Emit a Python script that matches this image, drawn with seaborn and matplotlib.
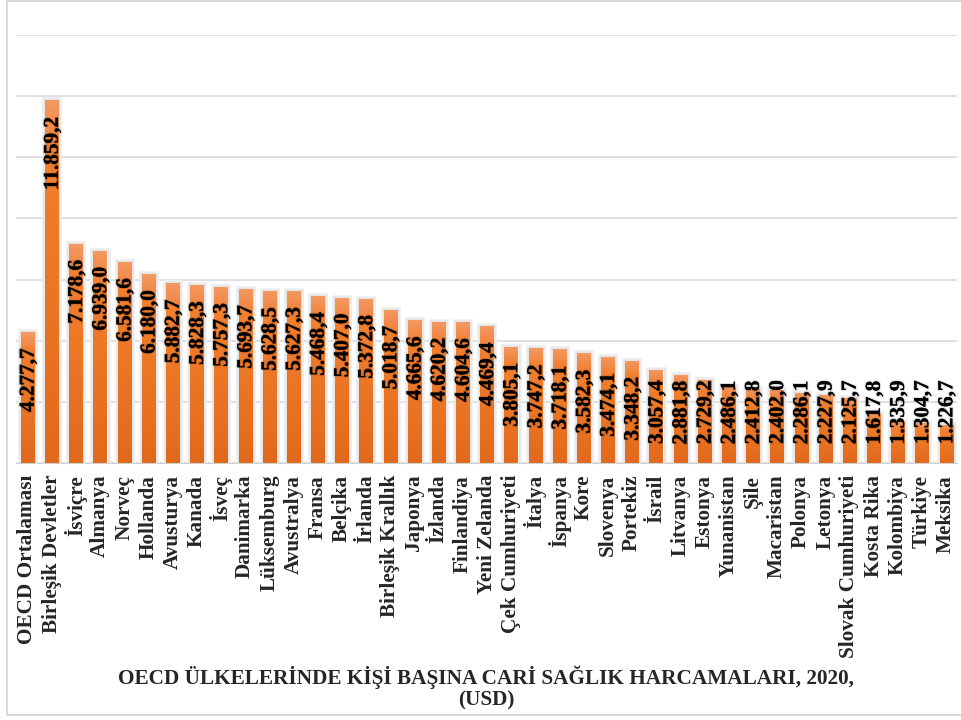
import numpy as np
import seaborn as sns
import matplotlib.pyplot as plt
import matplotlib.patheffects as pe
from matplotlib.colors import LinearSegmentedColormap
from matplotlib.patches import Rectangle

countries = ['OECD Ortalaması', 'Birleşik Devletler', 'İsviçre', 'Almanya', 'Norveç',
             'Hollanda', 'Avusturya', 'Kanada', 'İsveç', 'Danimarka', 'Lüksemburg',
             'Avustralya', 'Fransa', 'Belçika', 'İrlanda', 'Birleşik Krallık', 'Japonya',
             'İzlanda', 'Finlandiya', 'Yeni Zelanda', 'Çek Cumhuriyeti', 'İtalya',
             'İspanya', 'Kore', 'Slovenya', 'Portekiz', 'İsrail', 'Litvanya', 'Estonya',
             'Yunanistan', 'Şile', 'Macaristan', 'Polonya', 'Letonya',
             'Slovak Cumhuriyeti', 'Kosta Rika', 'Kolombiya', 'Türkiye', 'Meksika']
spending = [4277.7, 11859.2, 7178.6, 6939.0, 6581.6, 6180.0, 5882.7, 5828.3, 5757.3,
            5693.7, 5628.5, 5627.3, 5468.4, 5407.0, 5372.8, 5018.7, 4665.6, 4620.2,
            4604.6, 4469.4, 3805.1, 3747.2, 3718.1, 3582.3, 3474.1, 3348.2, 3057.4,
            2881.8, 2729.2, 2486.1, 2412.8, 2402.0, 2286.1, 2227.9, 2125.7, 1617.8,
            1335.9, 1304.7, 1226.7]
title = 'OECD ÜLKELERİNDE KİŞİ BAŞINA CARİ SAĞLIK HARCAMALARI, 2020,\n(USD)'

sns.set_style('white')
plt.rcParams['font.family'] = ['Liberation Serif', 'DejaVu Serif']
plt.rcParams['font.weight'] = 'bold'

fig = plt.figure(figsize=(9.61, 7.2), dpi=100)
ax = fig.add_axes([16 / 961, 1 - 463 / 720, (957 - 16) / 961, (463 - 35) / 720])

sns.barplot(x=countries, y=spending, color='#EE7D31', saturation=1, width=0.54, ax=ax)

# orange gradient + soft grey halo like the excel look
cmap = LinearSegmentedColormap.from_list(
    'org', [(0, '#E2691C'), (0.85, '#F2802E'), (0.93, '#F28D50'), (1, '#F39A62')])
grad = np.linspace(0, 1, 256).reshape(-1, 1)
for p in ax.patches:
    p.set_path_effects([pe.Stroke(linewidth=5, foreground='#f0f0f0'),
                        pe.Stroke(linewidth=2.5, foreground='#dedede'),
                        pe.Normal()])
    x0, w, h = p.get_x(), p.get_width(), p.get_height()
    im = ax.imshow(grad, extent=[x0, x0 + w, 0, h], cmap=cmap, aspect='auto',
                   origin='lower', zorder=p.get_zorder() + 0.1)
    im.set_clip_path(p)

ax.set_xlim(-0.475, 38.45)
ax.set_ylim(0, 14000)
ax.set_yticks(np.arange(0, 14001, 2000))
ax.set_yticklabels([])
ax.grid(axis='y', color='#d9d9d9', lw=1.2)
ax.set_axisbelow(True)
for s in ['left', 'right', 'top']:
    ax.spines[s].set_visible(False)
ax.spines['bottom'].set_color('#d0d0d0')
ax.tick_params(axis='both', length=0)
ax.tick_params(axis='x', pad=8.5)
ax.set_xticks(range(len(countries)))
ax.set_xticklabels(countries, rotation=90, fontsize=15.3, fontweight='bold')
ax.set_xlabel('')

# value labels (turkish number format), inside end unless bar too short
for i, v in enumerate(spending):
    lab = f'{v:,.1f}'.replace(',', 'X').replace('.', ',').replace('X', '.')
    ytop = max(v - 530, 2700)
    ax.text(i + 0.05, ytop, lab, rotation=90, ha='center', va='top', fontsize=15.3,
            fontweight='bold', color='black', zorder=5,
            path_effects=[pe.withStroke(linewidth=1.5, foreground=(0, 0, 0, 0.15))])

fig.text(0.506, 1 - 688 / 720, title, ha='center', va='center', fontsize=15.3,
         fontweight='bold', multialignment='center', linespacing=1.1)

fig.add_artist(Rectangle((7 / 961, 1 - 715 / 720), 1, 714 / 720, transform=fig.transFigure,
                         fill=False, edgecolor='#d3d3d3', lw=1.2))

fig.savefig('out.png', dpi=100, facecolor='white')
